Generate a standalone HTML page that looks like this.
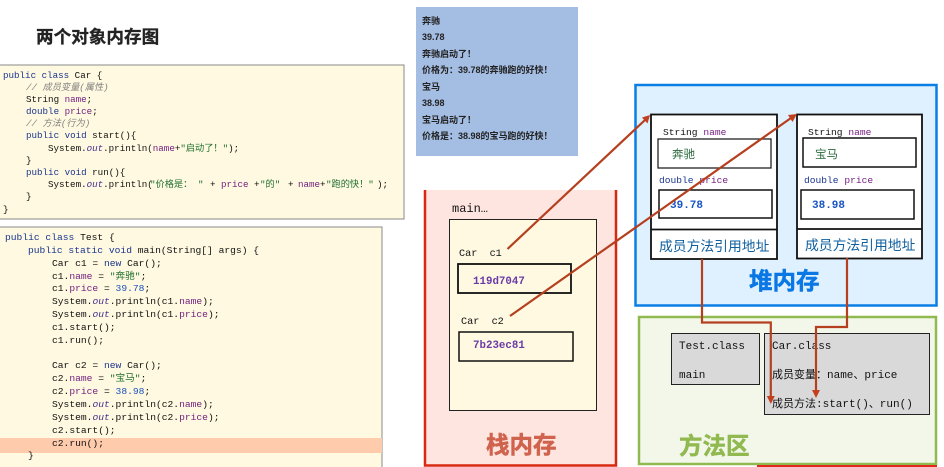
<!DOCTYPE html>
<html lang="zh">
<head>
<meta charset="utf-8">
<title>两个对象内存图</title>
<style>
html,body{margin:0;padding:0;background:#fff;width:944px;height:467px;overflow:hidden}
svg{display:block}
text{white-space:pre}
.sans{font-family:"Liberation Sans","Noto Sans CJK SC",sans-serif}
.a{font-family:"Liberation Mono","Noto Sans CJK SC",monospace;font-size:9.2px;fill:#111}
.b{font-family:"Liberation Mono","Noto Sans CJK SC",monospace;font-size:9.65px;fill:#111}
.k{fill:#1a3590}
.n{fill:#74207f}
.o{fill:#40308f;font-style:italic}
.s{fill:#1f6e30}
.d{fill:#1a50bc}
.c{fill:#808080;font-style:italic}
.out{font-family:"Liberation Sans","Noto Sans CJK SC",sans-serif;font-size:9px;font-weight:bold;fill:#222}
.m{font-family:"Liberation Mono","Noto Sans CJK SC",monospace;font-size:11px;fill:#111}
.big{font-family:"Liberation Sans","Noto Sans CJK SC",sans-serif;font-size:23.5px;font-weight:bold;stroke-width:.5px}
.ref{font-family:"Liberation Sans","Noto Sans CJK SC",sans-serif;font-size:13.8px;fill:#0f5f9f}
</style>
</head>
<body>
<svg width="944" height="467" viewBox="0 0 944 467" xmlns="http://www.w3.org/2000/svg">
<rect width="944" height="467" fill="#fff"/>

<text class="sans" x="36" y="43" font-size="17.6" font-weight="bold" fill="#222" stroke="#222" stroke-width=".3">两个对象内存图</text>

<!-- Car class -->
<rect x="-2" y="65" width="406" height="154" fill="#fef9e0" stroke="#8a8a8a" stroke-width="1"/>
<text class="a" x="3" y="78"><tspan class="k">public class</tspan> Car {</text>
<text class="a c" x="26" y="90">// 成员变量(属性)</text>
<text class="a" x="26" y="102">String <tspan class="n">name</tspan>;</text>
<text class="a" x="26" y="114"><tspan class="k">double</tspan> <tspan class="n">price</tspan>;</text>
<text class="a c" x="26" y="126">// 方法(行为)</text>
<text class="a" x="26" y="138"><tspan class="k">public void</tspan> start(){</text>
<text class="a" x="48" y="151">System.<tspan class="o">out</tspan>.println(<tspan class="n">name</tspan>+<tspan class="s">"启动了！"</tspan>);</text>
<text class="a" x="26" y="163">}</text>
<text class="a" x="26" y="175"><tspan class="k">public void</tspan> run(){</text>
<text class="a" x="48" y="187">System.<tspan class="o">out</tspan>.println(<tspan class="s" x="150">"价格是：</tspan><tspan class="s" x="198">"</tspan><tspan x="210">+</tspan><tspan class="n" x="221">price</tspan><tspan x="254">+</tspan><tspan class="s" x="260">"的"</tspan><tspan x="288">+</tspan><tspan class="n" x="298">name</tspan><tspan x="320">+</tspan><tspan class="s" x="326">"跑的快！"</tspan><tspan x="377">);</tspan></text>
<text class="a" x="26" y="199">}</text>
<text class="a" x="3" y="212">}</text>

<!-- Test class -->
<rect x="-2" y="227" width="384" height="245" fill="#fef9e0" stroke="#8a8a8a" stroke-width="1"/>
<rect x="0" y="438" width="382" height="15" fill="#fecbad"/>
<text class="b" x="5" y="240"><tspan class="k">public class</tspan> Test {</text>
<text class="b" x="28" y="253"><tspan class="k">public static void</tspan> main(String[] args) {</text>
<text class="b" x="52" y="266">Car c1 = <tspan class="k">new</tspan> Car();</text>
<text class="b" x="52" y="279">c1.<tspan class="n">name</tspan> = <tspan class="s">"奔驰"</tspan>;</text>
<text class="b" x="52" y="291">c1.<tspan class="n">price</tspan> = <tspan class="d">39.78</tspan>;</text>
<text class="b" x="52" y="304">System.<tspan class="o">out</tspan>.println(c1.<tspan class="n">name</tspan>);</text>
<text class="b" x="52" y="317">System.<tspan class="o">out</tspan>.println(c1.<tspan class="n">price</tspan>);</text>
<text class="b" x="52" y="330">c1.start();</text>
<text class="b" x="52" y="343">c1.run();</text>
<text class="b" x="52" y="368">Car c2 = <tspan class="k">new</tspan> Car();</text>
<text class="b" x="52" y="381">c2.<tspan class="n">name</tspan> = <tspan class="s">"宝马"</tspan>;</text>
<text class="b" x="52" y="394">c2.<tspan class="n">price</tspan> = <tspan class="d">38.98</tspan>;</text>
<text class="b" x="52" y="407">System.<tspan class="o">out</tspan>.println(c2.<tspan class="n">name</tspan>);</text>
<text class="b" x="52" y="420">System.<tspan class="o">out</tspan>.println(c2.<tspan class="n">price</tspan>);</text>
<text class="b" x="52" y="433">c2.start();</text>
<text class="b" x="52" y="446">c2.run();</text>
<text class="b" x="28" y="458">}</text>

<!-- Output -->
<rect x="416" y="7" width="162" height="149" fill="#a4bde3"/>
<text class="out" x="422" y="24">奔驰</text>
<text class="out" x="422" y="40">39.78</text>
<text class="out" x="422" y="57">奔驰启动了！</text>
<text class="out" x="422" y="73">价格为：39.78的奔驰跑的好快！</text>
<text class="out" x="422" y="90">宝马</text>
<text class="out" x="422" y="106">38.98</text>
<text class="out" x="422" y="123">宝马启动了！</text>
<text class="out" x="422" y="139">价格是：38.98的宝马跑的好快！</text>

<!-- Stack -->
<rect x="425" y="190" width="191" height="275" fill="#fee5e0"/>
<path d="M425 190V465.500H616V190" fill="none" stroke="#d8280f" stroke-width="2.500"/>
<text class="m" x="452" y="212" style="font-size:12px">main…</text>
<rect x="449.500" y="219.500" width="147" height="191" fill="#fef9e0" stroke="#222" stroke-width="1"/>
<text class="m" x="459" y="256" style="font-size:10.2px">Car  c1</text>
<rect x="458" y="264" width="113" height="29" fill="#fef9e0" stroke="#111" stroke-width="1.800"/>
<text class="m" x="473" y="284" style="font-size:10.8px;font-weight:bold;fill:#6a3aa8">119d7047</text>
<text class="m" x="461" y="324" style="font-size:10.2px">Car  c2</text>
<rect x="459" y="332" width="114" height="29" fill="#fef9e0" stroke="#111" stroke-width="1.500"/>
<text class="m" x="473" y="348" style="font-size:10.8px;font-weight:bold;fill:#6a3aa8">7b23ec81</text>
<text class="big" x="486" y="453" fill="#d0634e" stroke="#d0634e">栈内存</text>

<!-- Heap -->
<rect x="635.500" y="85" width="301" height="220.500" fill="#dff0ff" stroke="#0a7ee4" stroke-width="2.500"/>
<rect x="651" y="114.500" width="126" height="144.500" fill="#fff" stroke="#111" stroke-width="1.800"/>
<line x1="651" y1="229.500" x2="777" y2="229.500" stroke="#111" stroke-width="1.800"/>
<text class="m" x="663" y="135" style="font-size:9.600px">String <tspan class="n">name</tspan></text>
<rect x="658" y="139" width="113" height="29" fill="#fff" stroke="#222" stroke-width="1.300"/>
<text class="sans" x="672" y="158" font-size="11.500" fill="#2a6a3c">奔驰</text>
<text class="m" x="659" y="183" style="font-size:9.600px"><tspan class="k">double</tspan> <tspan class="n">price</tspan></text>
<rect x="659" y="190" width="113" height="28" fill="#fff" stroke="#111" stroke-width="1.500"/>
<text class="m" x="670" y="208" style="font-size:11px;font-weight:bold;fill:#1a55c4">39.78</text>
<text class="ref" x="659" y="251">成员方法引用地址</text>

<rect x="797" y="114.500" width="125" height="144" fill="#fff" stroke="#111" stroke-width="1.800"/>
<line x1="797" y1="229" x2="922" y2="229" stroke="#111" stroke-width="1.800"/>
<text class="m" x="808" y="135" style="font-size:9.600px">String <tspan class="n">name</tspan></text>
<rect x="803" y="138" width="113" height="29" fill="#fff" stroke="#111" stroke-width="1.500"/>
<text class="sans" x="815" y="158" font-size="11.500" fill="#2a6a3c">宝马</text>
<text class="m" x="804" y="183" style="font-size:9.600px"><tspan class="k">double</tspan> <tspan class="n">price</tspan></text>
<rect x="801" y="190" width="113" height="29" fill="#fff" stroke="#111" stroke-width="1.500"/>
<text class="m" x="812" y="208" style="font-size:11px;font-weight:bold;fill:#1a55c4">38.98</text>
<text class="ref" x="805" y="250">成员方法引用地址</text>
<text class="big" x="749" y="289" fill="#0a78e4" stroke="#0a78e4">堆内存</text>

<!-- Method area -->
<rect x="639" y="317" width="297" height="147" fill="#f2f7ea" stroke="#90b94f" stroke-width="2.500"/>
<rect x="671.500" y="333.500" width="88" height="51" fill="#d9d9d9" stroke="#222" stroke-width="1"/>
<text class="m" x="679" y="349">Test.class</text>
<text class="m" x="679" y="378">main</text>
<rect x="764.500" y="333.500" width="165" height="81" fill="#d9d9d9" stroke="#222" stroke-width="1"/>
<text class="m" x="772" y="349">Car.class</text>
<text class="m" x="772" y="378">成员变量：name、price</text>
<text class="m" x="772" y="407">成员方法:start()、run()</text>
<text class="big" x="679" y="454" fill="#90b94f" stroke="#90b94f">方法区</text>
<rect x="757" y="465" width="180" height="2" fill="#e0281a"/>

<!-- Connectors -->
<g fill="none" stroke="#b5401f" stroke-width="2.200">
<line x1="507.500" y1="249" x2="645" y2="120"/>
<line x1="510" y1="316" x2="791" y2="118"/>
<path d="M702 259V322.500H770.800V397"/>
<path d="M847 258V327H816V391"/>
</g>
<g fill="#c2401f">
<polygon points="650,115 647.500,123.500 642,117.500"/>
<polygon points="797,114 792.500,122 788,115"/>
<polygon points="770.800,404 766.800,396 774.800,396"/>
<polygon points="816,398 812,390 820,390"/>
</g>
</svg>
</body>
</html>
